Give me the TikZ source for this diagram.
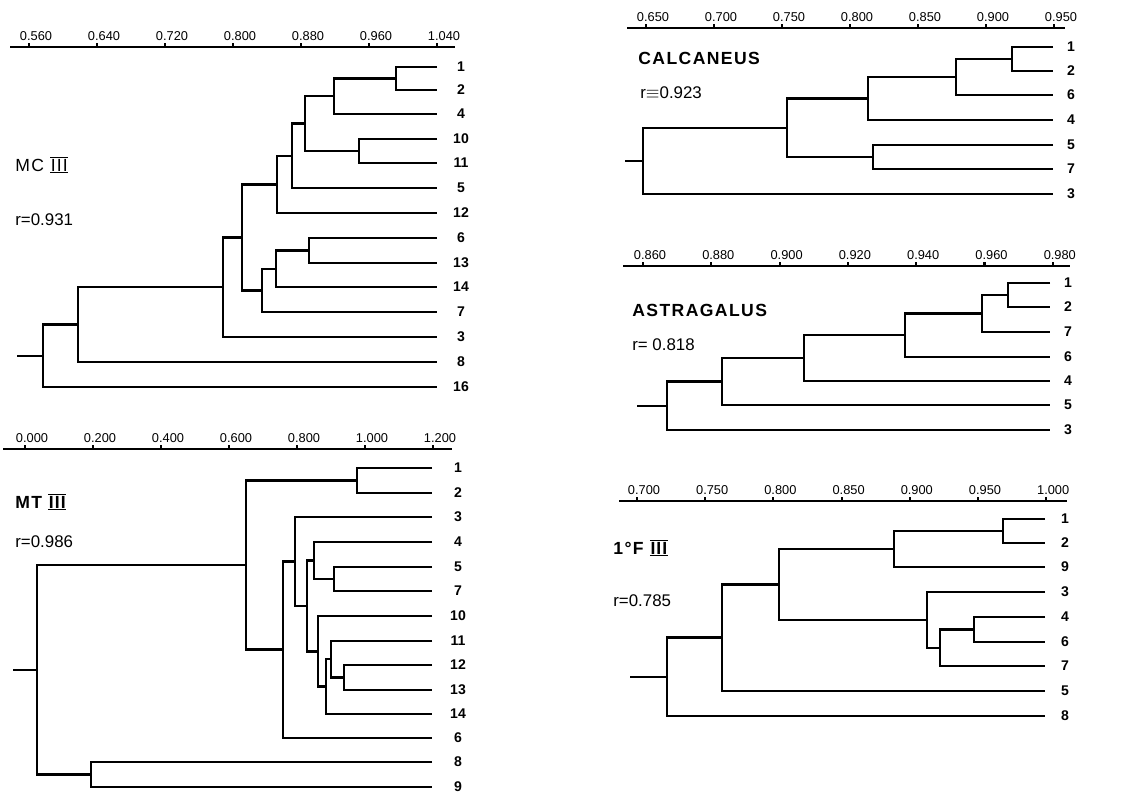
\documentclass[tikz,border=0pt]{standalone}
\usepackage{fontspec}
\setmainfont{Liberation Sans}
\newfontfamily\titlefont[LetterSpace=8]{Liberation Sans}
\usetikzlibrary{calc}

% roman three with bars
\newcommand{\romIII}{\raisebox{-0.9pt}{\vbox{\hrule height .6pt\kern.4pt\hbox{\kern.3pt I\kern.6pt I\kern.6pt I\kern.3pt}\kern.4pt\hrule height .6pt}}}
% clade: name, x, upper child, lower child
\newcommand{\clade}[4]{%
  \coordinate (x-#1) at (#2,0);
  \draw[branch] (#3) -- (#3 -| x-#1) -- (#4 -| x-#1) -- (#4);
  \coordinate (#1) at ($(#3 -| x-#1)!.5!(#4 -| x-#1)$);}
% root stub: clade, length
\newcommand{\stub}[2]{%
  \coordinate (#1-root) at ($(#1)+(-#2,0)$);
  \draw[branch] (#1-root) -- (#1);}
% scale bar: prefix, x-left, x-right, y, first tick, step, labels
\newcommand{\scalebar}[7]{%
  \draw[axisline] (#2,#4) -- (#3,#4);
  \foreach \lab [count=\i from 0] in {#7}{
    \draw[axisline] ({#5+\i*#6},#4) -- ++(0,-4);
    \node[ticklab] (#1-t\i) at ({#5+\i*#6+7},{#4-11}) {\lab};
  }}

\begin{document}
\begin{tikzpicture}[x=0.02cm,y=-0.02cm,
    branch/.style={line width=1.4pt},
    axisline/.style={line width=1.2pt},
    ticklab/.style={inner sep=0pt,font=\fontsize{7.3}{8}\selectfont},
    leaf/.style={inner sep=0pt,font=\bfseries\fontsize{8}{9}\selectfont},
    title/.style={anchor=west,inner sep=0pt,font=\titlefont\fontsize{10}{11}\selectfont},
    rval/.style={anchor=west,inner sep=0pt,font=\fontsize{9.6}{10}\selectfont}]
    \useasboundingbox (0,0) rectangle (1125,793);

    % MC III
    \scalebar{mc}{10}{455}{47}{29}{68}{0.560,0.640,0.720,0.800,0.880,0.960,1.040}
    \foreach \t/\y in {1/67,2/90,4/114,10/139,11/163,5/188,12/213,6/238,13/263,14/287,7/312,3/337,8/362,16/387}{
      \coordinate (mc\t) at (437,\y);
      \node[leaf] (mc\t-lab) at (461,\y) {\t};
    }
    \clade{mcA}{396}{mc1}{mc2}
    \clade{mcB}{334}{mcA}{mc4}
    \clade{mcC}{359}{mc10}{mc11}
    \clade{mcD}{305}{mcB}{mcC}
    \clade{mcE}{292}{mcD}{mc5}
    \clade{mcF}{277}{mcE}{mc12}
    \clade{mcG}{309}{mc6}{mc13}
    \clade{mcH}{276}{mcG}{mc14}
    \clade{mcI}{262}{mcH}{mc7}
    \clade{mcJ}{242}{mcF}{mcI}
    \clade{mcK}{223}{mcJ}{mc3}
    \clade{mcL}{78}{mcK}{mc8}
    \clade{mcM}{43}{mcL}{mc16}
    \stub{mcM}{26}
    \node[title] (mc-name) at (15,165) {MC \romIII};
    \node[rval] (mc-r) at (15,220) {r=0.931};

    % MT III
    \scalebar{mt}{3}{452}{449}{25}{68}{0.000,0.200,0.400,0.600,0.800,1.000,1.200}
    \foreach \t/\y in {1/468,2/493,3/517,4/542,5/567,7/591,10/616,11/641,12/665,13/690,14/714,6/738,8/762,9/787}{
      \coordinate (mt\t) at (432,\y);
      \node[leaf] (mt\t-lab) at (458,\y) {\t};
    }
    \clade{mtA}{357}{mt1}{mt2}
    \clade{mtB}{334}{mt5}{mt7}
    \clade{mtC}{314}{mt4}{mtB}
    \clade{mtD}{344}{mt12}{mt13}
    \clade{mtE}{331}{mt11}{mtD}
    \clade{mtF}{326}{mtE}{mt14}
    \clade{mtG}{318}{mt10}{mtF}
    \clade{mtH}{307}{mtC}{mtG}
    \clade{mtI}{295}{mt3}{mtH}
    \clade{mtJ}{283}{mtI}{mt6}
    \clade{mtK}{246}{mtA}{mtJ}
    \clade{mtL}{91}{mt8}{mt9}
    \clade{mtM}{37}{mtK}{mtL}
    \stub{mtM}{24}
    \node[title] (mt-name) at (15,502) {\bfseries MT \romIII};
    \node[rval] (mt-r) at (15,542) {r=0.986};

    % CALCANEUS
    \scalebar{ca}{627}{1065}{28}{646}{68}{0.650,0.700,0.750,0.800,0.850,0.900,0.950}
    \foreach \t/\y in {1/47,2/71,6/95,4/120,5/145,7/169,3/194}{
      \coordinate (ca\t) at (1053,\y);
      \node[leaf] (ca\t-lab) at (1071,\y) {\t};
    }
    \clade{caA}{1012}{ca1}{ca2}
    \clade{caB}{956}{caA}{ca6}
    \clade{caC}{868}{caB}{ca4}
    \clade{caD}{873}{ca5}{ca7}
    \clade{caE}{787}{caC}{caD}
    \clade{caF}{643}{caE}{ca3}
    \stub{caF}{18}
    \node[title] (ca-name) at (638,58) {\bfseries CALCANEUS};
    \node[rval] (ca-r) at (640,93) {r$\equiv$0.923};

    % ASTRAGALUS
    \scalebar{as}{623}{1070}{266}{643}{68.3}{0.860,0.880,0.900,0.920,0.940,0.960,0.980}
    \foreach \t/\y in {1/283,2/307,7/332,6/357,4/381,5/405,3/430}{
      \coordinate (as\t) at (1050,\y);
      \node[leaf] (as\t-lab) at (1068,\y) {\t};
    }
    \clade{asA}{1008}{as1}{as2}
    \clade{asB}{982}{asA}{as7}
    \clade{asC}{905}{asB}{as6}
    \clade{asD}{804}{asC}{as4}
    \clade{asE}{722}{asD}{as5}
    \clade{asF}{667}{asE}{as3}
    \stub{asF}{30}
    \node[title] (as-name) at (632,310) {\bfseries ASTRAGALUS};
    \node[rval] (as-r) at (632,345) {r= 0.818};

    % 1 F III
    \scalebar{ph}{619}{1067}{501}{637}{68.2}{0.700,0.750,0.800,0.850,0.900,0.950,1.000}
    \foreach \t/\y in {1/519,2/543,9/567,3/592,4/617,6/642,7/666,5/691,8/716}{
      \coordinate (ph\t) at (1045,\y);
      \node[leaf] (ph\t-lab) at (1065,\y) {\t};
    }
    \clade{phA}{1003}{ph1}{ph2}
    \clade{phB}{894}{phA}{ph9}
    \clade{phC}{974}{ph4}{ph6}
    \clade{phD}{940}{phC}{ph7}
    \clade{phE}{927}{ph3}{phD}
    \clade{phF}{779}{phB}{phE}
    \clade{phG}{722}{phF}{ph5}
    \clade{phH}{667}{phG}{ph8}
    \stub{phH}{37}
    \node[title] (ph-name) at (613,548) {\bfseries 1°F \romIII};
    \node[rval] (ph-r) at (613,601) {r=0.785};
  \end{tikzpicture}
\end{document}
